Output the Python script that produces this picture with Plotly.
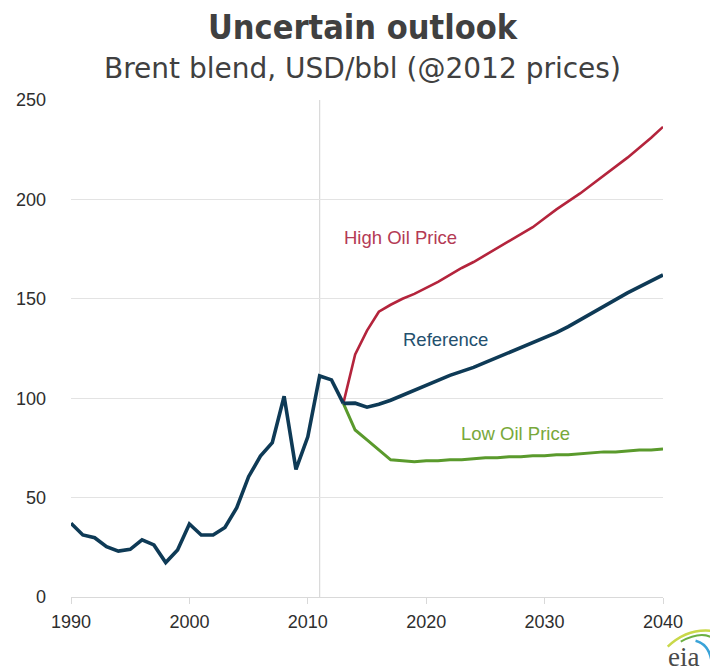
import plotly.graph_objects as go

years_hist = list(range(1990, 2014))
brent_hist = [37.1, 31.2, 29.8, 25.3, 23.1, 24.0, 28.7, 26.2, 17.3, 23.6,
              36.7, 31.2, 31.2, 35.0, 44.9, 60.5, 70.9, 77.6, 101.0, 64.2,
              80.6, 111.2, 109.2, 97.4]

years_proj = list(range(2013, 2041))
reference = [97.4, 97.5, 95.5, 97.0, 99.0, 101.5, 104.0, 106.5, 109.0, 111.5,
             113.5, 115.5, 118.0, 120.5, 123.0, 125.5, 128.0, 130.5, 133.0, 136.0,
             139.5, 143.0, 146.5, 150.0, 153.0, 156.0, 159.0, 162.0]
high_price = [97.4, 122.0, 134.0, 143.5, 147.0, 150.0, 152.5, 155.5, 158.5, 162.0,
              165.5, 168.5, 172.0, 175.5, 179.0, 182.5, 186.0, 190.5, 195.0, 199.0,
              203.0, 207.5, 212.0, 216.5, 221.0, 226.0, 231.0, 236.5]
low_price = [97.4, 84.0, 79.0, 74.0, 69.0, 68.5, 68.0, 68.5, 68.5, 69.0,
             69.0, 69.5, 70.0, 70.0, 70.5, 70.5, 71.0, 71.0, 71.5, 71.5,
             72.0, 72.5, 73.0, 73.0, 73.5, 74.0, 74.0, 74.5]

x_ticks = [1990, 2000, 2010, 2020, 2030, 2040]
y_ticks = [0, 50, 100, 150, 200, 250]

NAVY = "#0e3a56"
RED = "#b4243c"
GREEN = "#5a9a2c"

fig = go.Figure()
fig.add_trace(go.Scatter(x=years_proj, y=low_price, mode="lines",
                         line=dict(color=GREEN, width=3), name="Low Oil Price"))
fig.add_trace(go.Scatter(x=years_proj, y=high_price, mode="lines",
                         line=dict(color=RED, width=2.6), name="High Oil Price"))
fig.add_trace(go.Scatter(x=years_proj, y=reference, mode="lines",
                         line=dict(color=NAVY, width=3.6), name="Reference"))
fig.add_trace(go.Scatter(x=years_hist, y=brent_hist, mode="lines",
                         line=dict(color=NAVY, width=3.6), name="History"))

fig.add_shape(type="line", x0=2011, x1=2011, y0=0, y1=250, xref="x", yref="y",
              line=dict(color="#d9d9d9", width=1.2), layer="below")

lab_font = "Liberation Sans, Arial, sans-serif"
fig.add_annotation(x=2017.8, y=180.6, text="High Oil Price", showarrow=False,
                   font=dict(family=lab_font, size=18.5, color="#b43a55"))
fig.add_annotation(x=2021.6, y=129.3, text="Reference", showarrow=False,
                   font=dict(family=lab_font, size=18.5, color="#24506e"))
fig.add_annotation(x=2027.5, y=82, text="Low Oil Price", showarrow=False,
                   font=dict(family=lab_font, size=18.5, color="#78a83a"))

fig.add_annotation(xref="paper", yref="paper", x=0.493, y=1.0, yshift=73,
                   xanchor="center", yanchor="middle", showarrow=False,
                   text="<b>Uncertain outlook</b>",
                   font=dict(family="DejaVu Sans Condensed, sans-serif", size=34, color="#404040"))
fig.add_annotation(xref="paper", yref="paper", x=0.493, y=1.0, yshift=32,
                   xanchor="center", yanchor="middle", showarrow=False,
                   text="Brent blend, USD/bbl (@2012 prices)",
                   font=dict(family="DejaVu Sans, sans-serif", size=28, color="#404040"))

# eia logo
fig.add_annotation(xref="paper", yref="paper", x=1.0, y=0.0, xshift=20, yshift=-60,
                   xanchor="center", yanchor="middle", showarrow=False,
                   text="eia", font=dict(family="Liberation Serif, serif", size=27, color="#4a4a4a"))
fig.add_shape(type="path", xref="paper", yref="paper",
              path="M 1.008,-0.100 Q 1.040,-0.064 1.080,-0.068",
              line=dict(color="#c9d84a", width=2.5))
fig.add_shape(type="path", xref="paper", yref="paper",
              path="M 1.030,-0.090 Q 1.060,-0.070 1.080,-0.080",
              line=dict(color="#6cb043", width=2))
fig.add_shape(type="path", xref="paper", yref="paper",
              path="M 1.055,-0.088 Q 1.078,-0.095 1.082,-0.130",
              line=dict(color="#3aa3d8", width=2.5))

tick_font = dict(family="Liberation Sans, Arial, sans-serif", size=18, color="#2e2e2e")

fig.update_layout(
    width=710, height=672,
    margin=dict(l=71, r=47, t=100, b=75),
    paper_bgcolor="white", plot_bgcolor="white",
    showlegend=False,
    xaxis=dict(range=[1990, 2040], tickvals=x_ticks, showgrid=False,
               showline=True, linecolor="#d9d9d9", linewidth=1.2,
               ticks="outside", ticklen=6, tickcolor="#d9d9d9",
               tickfont=tick_font, zeroline=False, fixedrange=True,
               ticklabelstandoff=2),
    yaxis=dict(range=[0, 250], tickvals=y_ticks, showgrid=True,
               gridcolor="#e3e3e3", gridwidth=1.2, showline=False,
               zeroline=False, tickfont=tick_font, ticklabelstandoff=24,
               fixedrange=True),
)

fig.write_html("out.html", post_script="document.body.style.margin='0';",
               config={"displayModeBar": False})
